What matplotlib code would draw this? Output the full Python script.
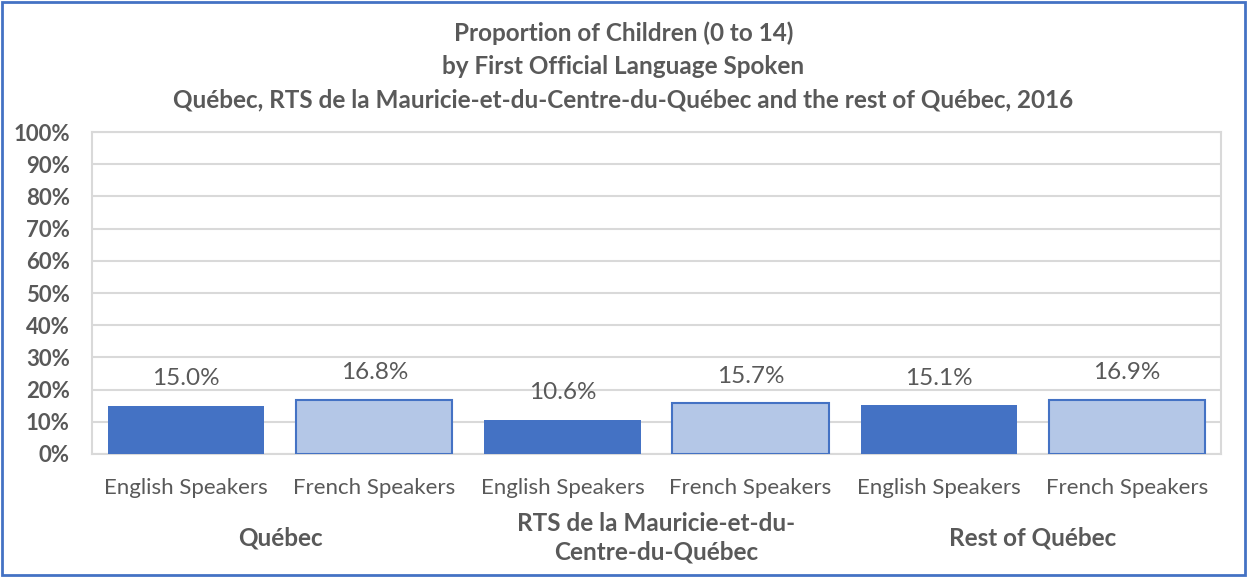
import matplotlib.pyplot as plt
from matplotlib.patches import Rectangle
import numpy as np

# data
groups = ['Québec', 'RTS de la Mauricie-et-du-\nCentre-du-Québec', 'Rest of Québec']
speakers = ['English Speakers', 'French Speakers']
english = [15.0, 10.6, 15.1]
french = [16.8, 15.7, 16.9]
yticks = list(range(0, 101, 10))

plt.rcParams['font.family'] = ['Lato', 'DejaVu Sans']
grey = '#595959'
dark = '#4472C4'
light = '#B4C7E7'

fig = plt.figure(figsize=(12.47, 5.77), dpi=100)
ax = fig.add_axes([92/1247, 1-454/577, (1221-92)/1247, (454-132)/577])

# interleave english/french per group
vals = []
cols = []
for e, f in zip(english, french):
    vals += [e, f]
    cols += [dark, light]
x = np.arange(len(vals))
bars = ax.bar(x, vals, width=0.83, color=cols, edgecolor=dark, linewidth=1.5, zorder=3)
for b, cc in zip(bars, cols):
    if cc == dark:
        b.set_linewidth(0)

for xi, v in zip(x, vals):
    ax.annotate('%.1f%%' % v, (xi, v), xytext=(0, 12), textcoords='offset points',
                ha='center', va='bottom', fontsize=17.5, color=grey)

ax.set_xlim(-0.5, len(vals) - 0.5)
ax.set_ylim(0, 100)
ax.set_yticks(yticks)
ax.set_yticklabels(['%d%%' % t for t in yticks], fontsize=16, fontweight='bold', color=grey)
ax.yaxis.grid(True, color='#D9D9D9', linewidth=1.5, zorder=0)
ax.tick_params(axis='y', length=0, pad=16)
ax.tick_params(axis='x', length=0, pad=17)
ax.set_xticks(x)
ax.set_xticklabels(speakers * len(groups), fontsize=16, color=grey)
for s in ax.spines.values():
    s.set_color('#D9D9D9')
    s.set_linewidth(1.5)

# group labels below the category labels
for i, g in enumerate(groups):
    ax.text(2 * i + 0.5, -26, g, ha='center', va='center', fontsize=17.5,
            fontweight='bold', color=grey, linespacing=1.3, transform=ax.transData)

title = ['Proportion of Children (0 to 14)',
         'by First Official Language Spoken',
         'Québec, RTS de la Mauricie-et-du-Centre-du-Québec and the rest of Québec, 2016']
for i, t in enumerate(title):
    fig.text(0.5, 1 - (33 + 33.5 * i) / 577, t, ha='center', va='center',
             fontsize=17.5, fontweight='bold', color=grey)

fig.patches.append(Rectangle((0.002, 0.003), 0.996, 0.994, transform=fig.transFigure,
                             fill=False, edgecolor=dark, linewidth=2))

fig.savefig('out.png', dpi=100, facecolor='white')
